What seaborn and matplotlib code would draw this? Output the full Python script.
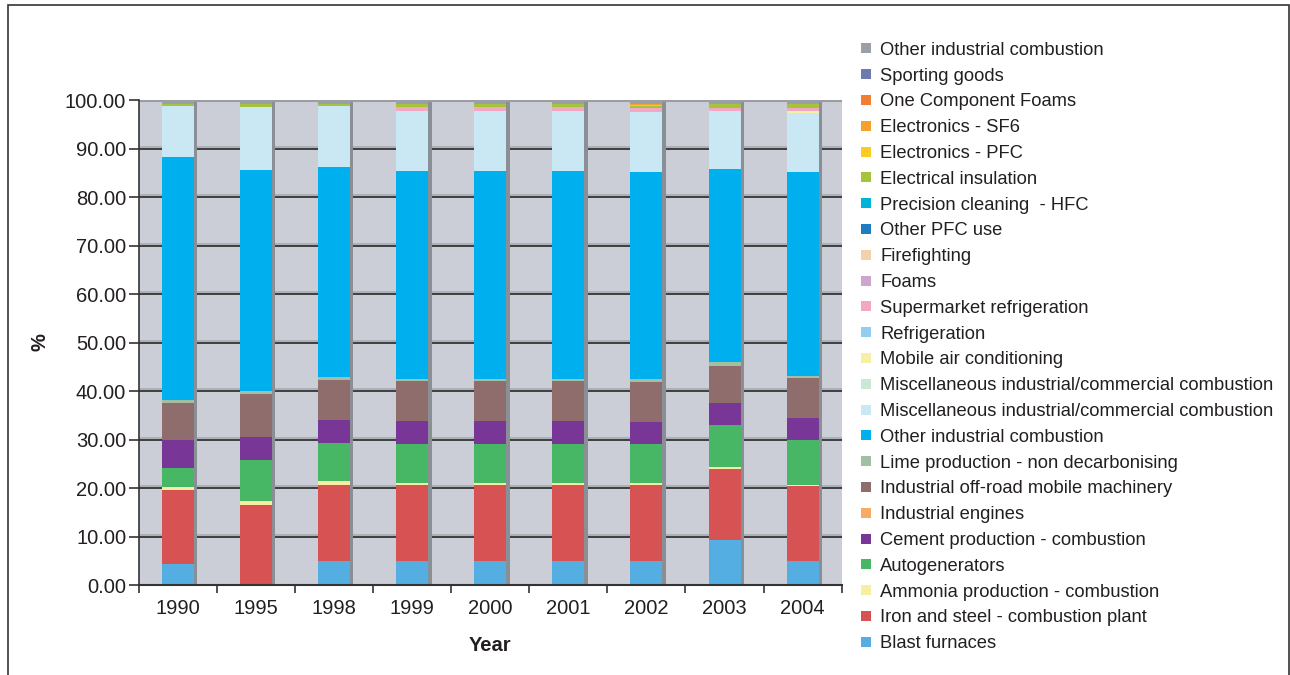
import matplotlib
matplotlib.use("Agg")
import matplotlib.pyplot as plt
from matplotlib.lines import Line2D
from matplotlib.patches import Rectangle
import numpy as np
import pandas as pd
import seaborn as sns

# Years on the category axis
years = ["1990", "1995", "1998", "1999", "2000", "2001", "2002", "2003", "2004"]

# Share of emissions (%) per source, stacked bottom to top
blast_furnaces   = [4.3, 0.0, 4.9, 4.9, 4.9, 4.9, 4.9, 9.3, 4.9]
iron_steel       = [15.3, 16.5, 15.7, 15.7, 15.7, 15.7, 15.7, 14.6, 15.5]
ammonia          = [0.6, 0.8, 0.8, 0.4, 0.4, 0.4, 0.4, 0.4, 0.2]
autogenerators   = [3.9, 8.5, 7.9, 8.1, 8.1, 8.1, 8.1, 8.7, 9.3]
cement           = [5.8, 4.7, 4.7, 4.7, 4.7, 4.7, 4.5, 4.5, 4.5]
ind_engines      = [0.0, 0.0, 0.0, 0.0, 0.0, 0.0, 0.0, 0.0, 0.0]
offroad          = [7.6, 8.9, 8.3, 8.3, 8.3, 8.3, 8.3, 7.7, 8.3]
lime             = [0.6, 0.6, 0.6, 0.4, 0.4, 0.4, 0.6, 0.8, 0.4]
other_ind_comb   = [50.1, 45.6, 43.3, 42.9, 42.9, 42.9, 42.7, 39.8, 42.1]
misc_comb_blue   = [10.6, 13.0, 12.6, 12.3, 12.3, 12.3, 12.3, 11.9, 12.1]
misc_comb_green  = [0.0, 0.0, 0.0, 0.0, 0.0, 0.0, 0.0, 0.0, 0.0]
mobile_ac        = [0.0, 0.0, 0.0, 0.0, 0.0, 0.0, 0.0, 0.0, 0.4]
refrigeration    = [0.0, 0.0, 0.0, 0.0, 0.0, 0.0, 0.0, 0.0, 0.0]
supermarket      = [0.0, 0.0, 0.0, 0.9, 0.9, 0.9, 0.9, 0.7, 0.7]
foams            = [0.0, 0.0, 0.0, 0.0, 0.0, 0.0, 0.0, 0.0, 0.0]
firefighting     = [0.0, 0.0, 0.0, 0.0, 0.0, 0.0, 0.0, 0.0, 0.0]
other_pfc        = [0.0, 0.0, 0.0, 0.0, 0.0, 0.0, 0.0, 0.0, 0.0]
precision_hfc    = [0.0, 0.0, 0.0, 0.0, 0.0, 0.0, 0.0, 0.0, 0.0]
elec_insulation  = [0.4, 0.6, 0.4, 0.6, 0.6, 0.6, 0.3, 0.8, 0.8]
electronics_pfc  = [0.0, 0.0, 0.0, 0.0, 0.0, 0.0, 0.3, 0.0, 0.0]
electronics_sf6  = [0.0, 0.0, 0.0, 0.0, 0.0, 0.0, 0.2, 0.0, 0.0]
one_comp_foams   = [0.0, 0.0, 0.0, 0.0, 0.0, 0.0, 0.0, 0.0, 0.0]
sporting_goods   = [0.0, 0.0, 0.0, 0.0, 0.0, 0.0, 0.0, 0.0, 0.0]
other_ind_gray   = [0.8, 0.8, 0.8, 0.8, 0.8, 0.8, 0.8, 0.8, 0.8]

series = [
    ("Blast furnaces", blast_furnaces, "#54AEE2"),
    ("Iron and steel - combustion plant", iron_steel, "#D75252"),
    ("Ammonia production - combustion", ammonia, "#F6EEA0"),
    ("Autogenerators", autogenerators, "#47B766"),
    ("Cement production - combustion", cement, "#783696"),
    ("Industrial engines", ind_engines, "#F6AC63"),
    ("Industrial off-road mobile machinery", offroad, "#906D6D"),
    ("Lime production - non decarbonising", lime, "#A3BFA3"),
    ("Other industrial combustion", other_ind_comb, "#00B0EE"),
    ("Miscellaneous industrial/commercial combustion", misc_comb_blue, "#C9E8F4"),
    ("Miscellaneous industrial/commercial combustion", misc_comb_green, "#CBE8D6"),
    ("Mobile air conditioning", mobile_ac, "#F7EFA4"),
    ("Refrigeration", refrigeration, "#94CDEE"),
    ("Supermarket refrigeration", supermarket, "#F2A7C3"),
    ("Foams", foams, "#CCA6CC"),
    ("Firefighting", firefighting, "#F4D0AC"),
    ("Other PFC use", other_pfc, "#1F7CC1"),
    ("Precision cleaning  - HFC", precision_hfc, "#00B4D8"),
    ("Electrical insulation", elec_insulation, "#A5C43C"),
    ("Electronics - PFC", electronics_pfc, "#FCCB1F"),
    ("Electronics - SF6", electronics_sf6, "#F5A22D"),
    ("One Component Foams", one_comp_foams, "#F07F34"),
    ("Sporting goods", sporting_goods, "#6E7BAE"),
    ("Other industrial combustion", other_ind_gray, "#9AA0A6"),
]

sns.set_style("white")
plt.rcParams["font.family"] = ["Liberation Sans", "DejaVu Sans"]

fig = plt.figure(figsize=(12.9, 6.75), dpi=100)
ax = fig.add_axes([0.1075, 0.1333, 0.545, 0.7185])
ax.set_facecolor("#CBCED6")

bar_w = 0.41
x = np.arange(len(years))

# grid lines: a dark rule with a lighter edge just above it
for v in range(10, 100, 10):
    ax.axhline(v + 0.35, color="#A7AAB1", lw=1.2, zorder=0.5)
    ax.axhline(v, color="#262626", lw=1.2, zorder=0.6)
ax.axhline(100, color="#9A9DA2", lw=2.2, zorder=0.6)

# side shading of each column
totals = np.sum([np.array(v) for _, v, _ in series], axis=0)
ax.bar(x - bar_w / 2, totals - 0.45, width=bar_w + 0.045, align="edge",
       color="#8A8F95", zorder=1, linewidth=0)

cum = np.zeros(len(years))
for label, vals, col in series:
    df = pd.DataFrame({"Year": years, "val": vals})
    sns.barplot(data=df, x="Year", y="val", order=years, color=col,
                width=bar_w, bottom=cum, ax=ax, errorbar=None,
                saturation=1, linewidth=0, zorder=2)
    cum = cum + np.array(vals)

ax.set_xlim(-0.5, len(years) - 0.5)
ax.set_ylim(0, 100)
ax.set_yticks(np.arange(0, 101, 10))
ax.set_yticklabels([f"{v:.2f}" for v in np.arange(0, 101, 10)])
ax.set_xticks(x)
ax.set_xticklabels(years)
ax.set_xticks(np.arange(-0.5, len(years), 1.0), minor=True)
ax.tick_params(axis="x", which="major", length=0, pad=10, labelsize=14.5, colors="#231F20")
ax.tick_params(axis="x", which="minor", length=6, width=1.2, color="#333333", direction="out")
ax.tick_params(axis="y", length=7, width=1.2, color="#333333", direction="out",
               labelsize=14.5, pad=2, labelcolor="#231F20")
ax.xaxis.set_ticks_position("bottom")
ax.yaxis.set_ticks_position("left")

for s in ["top", "right"]:
    ax.spines[s].set_visible(False)
ax.spines["left"].set_color("#333333")
ax.spines["left"].set_linewidth(1.2)
ax.spines["bottom"].set_color("#333333")
ax.spines["bottom"].set_linewidth(1.5)

ax.set_xlabel("Year", fontsize=14.5, fontweight="bold", color="#231F20", labelpad=13)
ax.set_ylabel("%", fontsize=14.5, fontweight="bold", color="#231F20", labelpad=11)

# legend lists the top of the stack first
handles = [Line2D([0], [0], marker="s", linestyle="none", markersize=7,
                  markerfacecolor=c, markeredgewidth=0) for _, _, c in series[::-1]]
labels = [lab for lab, _, _ in series[::-1]]
fig.legend(handles, labels, loc="upper left", bbox_to_anchor=(0.661, 0.949),
           frameon=False, fontsize=13.2, labelspacing=0.48, handlelength=0.6,
           handletextpad=0.5, borderaxespad=0, labelcolor="#231F20")

fig.patches.append(Rectangle((8 / 1290, -0.05), (1289 - 8) / 1290, 1.05 - 5 / 675,
                             transform=fig.transFigure, fill=False,
                             edgecolor="#333333", linewidth=1.2))

fig.savefig("out.png", dpi=100)
